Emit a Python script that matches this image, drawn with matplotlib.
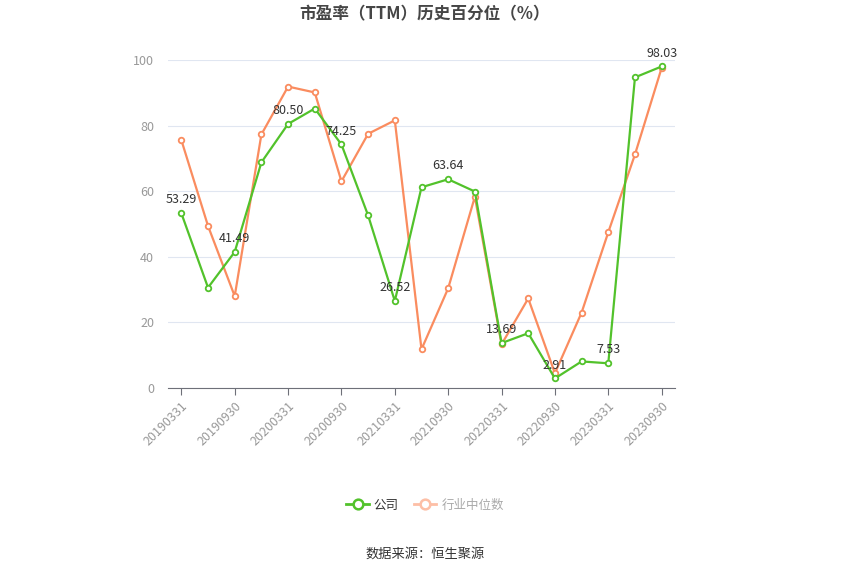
import matplotlib

matplotlib.use("Agg")
import matplotlib.pyplot as plt
from matplotlib.lines import Line2D
import numpy as np

plt.rcParams["font.family"] = ["Noto Sans CJK SC", "DejaVu Sans"]

dates = ["20190331", "20190630", "20190930", "20191231", "20200331", "20200630",
         "20200930", "20201231", "20210331", "20210630", "20210930", "20211231",
         "20220331", "20220630", "20220930", "20221231", "20230331", "20230630",
         "20230930"]
company = [53.29, 30.6, 41.49, 68.8, 80.50, 85.2, 74.25, 52.6, 26.52, 61.2,
           63.64, 59.9, 13.69, 16.7, 2.91, 8.1, 7.53, 94.7, 98.03]
industry = [75.6, 49.4, 28.0, 77.3, 91.9, 90.1, 63.0, 77.5, 81.6, 11.8,
            30.4, 58.3, 13.3, 27.3, 4.5, 23.0, 47.5, 71.2, 97.6]

GREEN = "#52C22B"
ORANGE = "#FA8C5F"
GRID = "#E0E6F1"
AXIS = "#6E7079"
LABEL = "#999999"

fig = plt.figure(figsize=(8.5, 5.75), dpi=100)
ax = fig.add_axes([168 / 850, 1 - 388 / 575, (675 - 168) / 850, (388 - 60) / 575])

x = np.arange(len(dates))
ax.plot(x, company, color=GREEN, lw=1.6, marker="o", ms=4, mfc="white", mec=GREEN, mew=1.3, zorder=3)
ax.plot(x, industry, color=ORANGE, lw=1.6, marker="o", ms=4, mfc="white", mec=ORANGE, mew=1.3, zorder=2)

for i in range(0, len(dates), 2):
    ax.annotate(f"{company[i]:.2f}", (x[i], company[i]), xytext=(0, 5), textcoords="offset points",
                ha="center", va="bottom", fontsize=9, color="#333333", zorder=4)

ax.set_xlim(-0.5, len(dates) - 0.5)
ax.set_ylim(0, 100)
ax.set_yticks([0, 20, 40, 60, 80, 100])
ax.set_xticks(x[::2])
ax.set_xticklabels(dates[::2], rotation=45, ha="right", rotation_mode="anchor", fontsize=9, color=LABEL)
ax.tick_params(axis="y", length=0, labelsize=9, labelcolor=LABEL, pad=10)
ax.tick_params(axis="x", length=5, color=AXIS, pad=3)
ax.grid(axis="y", color=GRID, lw=0.8)
ax.set_axisbelow(True)
for side in ["left", "right", "top"]:
    ax.spines[side].set_visible(False)
ax.spines["bottom"].set_color(AXIS)

fig.text(0.5, 1 - 14 / 575, "市盈率（TTM）历史百分位（%）", ha="center", va="center",
         fontsize=12, fontweight="bold", color="#464646")

handles = [
    Line2D([0], [0], color=GREEN, lw=2, marker="o", ms=7, mfc="white", mec=GREEN, mew=1.8),
    Line2D([0], [0], color="#FDBFA6", lw=2, marker="o", ms=7, mfc="white", mec="#FDBFA6", mew=1.8),
]
leg = fig.legend(handles, ["公司", "行业中位数"], loc="center", bbox_to_anchor=(0.5, 1 - 505 / 575),
                 ncol=2, frameon=False, fontsize=9, handlelength=1.8, columnspacing=1.2, handletextpad=0.4)
leg.get_texts()[0].set_color("#333333")
leg.get_texts()[1].set_color("#AAAAAA")

fig.text(0.5, 1 - 554 / 575, "数据来源：恒生聚源", ha="center", va="center", fontsize=9.5, color="#333333")

fig.savefig("out.png", dpi=100)
